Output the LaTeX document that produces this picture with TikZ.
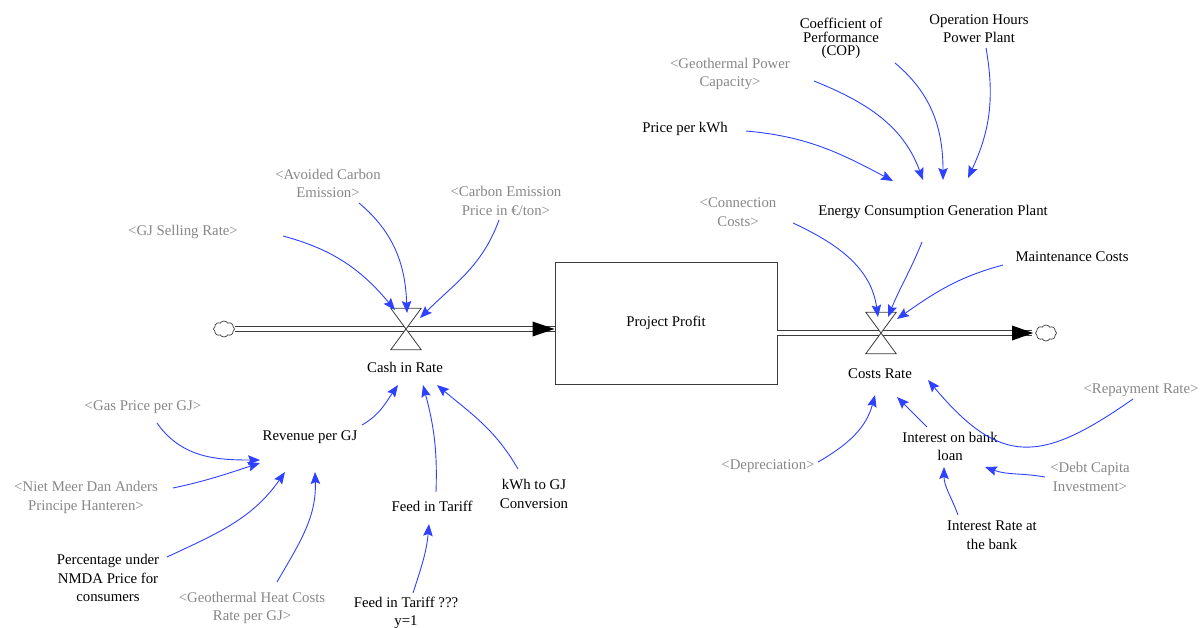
\documentclass[tikz,border=0pt]{standalone}
\usepackage{fontspec}
\setmainfont{Liberation Serif}
\usetikzlibrary{calc,arrows.meta,shapes.symbols}
\definecolor{linkblue}{RGB}{45,65,255}
\definecolor{ghost}{RGB}{135,135,135}
\definecolor{pipegray}{RGB}{60,60,60}
\newcommand{\vfs}{\fontsize{14.8}{18.5}\selectfont}
\tikzset{
  lbl/.style={inner sep=0pt, align=center, font=\vfs, text=black},
  shadow/.style={lbl, text=ghost},
  link/.style={draw=linkblue, line width=0.9pt, -{Stealth[length=12pt,width=9.5pt,inset=2pt]}},
  valvebox/.style={inner sep=0pt, minimum width=30pt, minimum height=41pt},
  valveline/.style={draw=pipegray, line width=0.8pt, fill=white, line join=miter},
  pipe/.style={draw=pipegray, line width=1.1pt, double=white, double distance=3.2pt},
  stockbox/.style={draw=pipegray, line width=0.9pt, minimum width=222pt, minimum height=122pt, inner sep=0pt, font=\vfs},
  sourcecloud/.style={cloud, draw=pipegray, line width=0.7pt, cloud puffs=8, cloud puff arc=120, aspect=1.3, minimum width=21pt, minimum height=16pt, inner sep=0pt}
}
\begin{document}
\begin{tikzpicture}[x=1pt,y=1pt]
\useasboundingbox (0,0) rectangle (1201,-627);

% stock, valves, clouds
\node[stockbox] (stock) at (666,-323) {Project Profit};
\node[valvebox] (cashv) at (406,-329) {};
\node[valvebox] (costv) at (881,-333) {};
\node[sourcecloud] (cloudL) at (224,-329) {};
\node[sourcecloud] (cloudR) at (1046,-333) {};

% pipes
\draw[pipe] (cloudL.east) -- (stock.west |- cashv.center);
\fill[black] (stock.west |- cashv.center) -- ++(-22,7.5) -- ++(0,-15) -- cycle;
\draw[pipe] (stock.east |- costv.center) -- ($(cloudR.west)+(-3,0)$);
\fill[black] ($(cloudR.west)+(-2,0)$) -- ++(-21,7.5) -- ++(0,-15) -- cycle;

% valve hourglasses
\draw[valveline] (cashv.north west) -- (cashv.north east) -- (cashv.center) -- cycle;
\draw[valveline] (cashv.south west) -- (cashv.south east) -- (cashv.center) -- cycle;
\draw[valveline] (costv.north west) -- (costv.north east) -- (costv.center) -- cycle;
\draw[valveline] (costv.south west) -- (costv.south east) -- (costv.center) -- cycle;

% labels
\node[lbl] (cashl) at (405,-367) {Cash in Rate};
\node[lbl] (costl) at (880,-374) {Costs Rate};

\node[shadow] (gjsell) at (183,-232) {<GJ Selling Rate>};
\node[shadow] (avoided) at (328,-183.5) {<Avoided Carbon\\Emission>};
\node[shadow] (carbon) at (506,-201) {<Carbon Emission\\Price in €/ton>};
\node[lbl] (revenue) at (310,-437) {Revenue per GJ};
\node[lbl] (feed) at (432,-506) {Feed in Tariff};
\node[lbl] (kwh) at (534,-494) {kWh to GJ\\Conversion};
\node[shadow] (gas) at (143,-407) {<Gas Price per GJ>};
\node[shadow] (niet) at (86,-497.5) {<Niet Meer Dan Anders\\Principe Hanteren>};
\node[lbl] (perc) at (108,-578) {Percentage under\\NMDA Price for\\consumers};
\node[shadow] (geoheat) at (252,-608) {<Geothermal Heat Costs\\Rate per GJ>};
\node[lbl] (feedtwo) at (406,-613) {Feed in Tariff ???\\y=1};

\node[lbl] (price) at (685,-129) {Price per kWh};
\node[shadow] (geopower) at (730,-74) {<Geothermal Power\\Capacity>};
\node[lbl] (cop) at (841,-38.5) {Coefficient of\\[-5pt]Performance\\[-5pt](COP)};
\node[lbl] (ophours) at (979,-28.5) {Operation Hours\\Power Plant};
\node[lbl] (energy) at (933,-212) {Energy Consumption Generation Plant};
\node[shadow] (conn) at (738,-212) {<Connection\\Costs>};
\node[lbl] (maint) at (1072,-257) {Maintenance Costs};
\node[shadow] (repay) at (1141,-390) {<Repayment Rate>};
\node[lbl] (interest) at (950,-446.5) {Interest on bank\\loan};
\node[shadow] (deprec) at (768,-466) {<Depreciation>};
\node[shadow] (debt) at (1090,-477) {<Debt Capita\\Investment>};
\node[lbl] (intrate) at (992,-535) {Interest Rate at\\the bank};

% links into Cash in Rate
\draw[link] ($(gjsell)+(100,-4)$) to[out=-15,in=130] ($(cashv)+(-11,19)$);
\draw[link] ($(avoided)+(31,-19.5)$) to[out=-40,in=92] ($(cashv)+(1,16)$);
\draw[link] ($(carbon)+(-7,-19)$) to[out=-110,in=45] ($(cashv)+(14,11)$);
\draw[link] ($(revenue)+(52,12)$) to[out=30,in=-125] ($(cashl)+(-7,-18)$);
\draw[link] ($(feed)+(4,14)$) to[out=88,in=-75] ($(cashl)+(18,-18)$);
\draw[link] ($(kwh)+(-16,25)$) to[out=120,in=-40] ($(cashl)+(32,-18)$);

% links into Revenue per GJ
\draw[link] ($(gas)+(14,-16)$) to[out=-55,in=180] ($(revenue)+(-50,-23)$);
\draw[link] ($(niet)+(87,9.5)$) to[out=12,in=-162] ($(revenue)+(-50,-26)$);
\draw[link] ($(perc)+(59,21)$) to[out=25,in=-125] ($(revenue)+(-25,-35)$);
\draw[link] ($(geoheat)+(25,26)$) to[out=60,in=-88] ($(revenue)+(5,-35)$);
\draw[link] ($(feedtwo)+(7,20)$) to[out=72,in=-95] ($(feed)+(-3,-18)$);

% links into Energy Consumption Generation Plant
\draw[link] ($(price)+(61,-2)$) to[out=-5,in=152] ($(energy)+(-40,31)$);
\draw[link] ($(geopower)+(84,-7)$) to[out=-22,in=110] ($(energy)+(-10,32)$);
\draw[link] ($(cop)+(54,-24.5)$) to[out=-40,in=90] ($(energy)+(10,32)$);
\draw[link] ($(ophours)+(7,-19.5)$) to[out=-80,in=65] ($(energy)+(35,34)$);

% links into Costs Rate
\draw[link] ($(conn)+(55,-11)$) to[out=-25,in=98] ($(costv)+(-3,16)$);
\draw[link] ($(energy)+(-11,-30)$) to[out=-112,in=68] ($(costv)+(7,16)$);
\draw[link] ($(maint)+(-69,-8)$) to[out=195,in=35] ($(costv)+(16,14)$);
\draw[link] ($(repay)+(-8,-9)$) to[out=-145,in=-50,looseness=1.4] ($(costl)+(48,-6)$);
\draw[link] ($(interest)+(-23,19.5)$) to[out=135,in=-45] ($(costl)+(17,-23)$);
\draw[link] ($(deprec)+(50,4)$) to[out=30,in=-105] ($(costl)+(-5,-21)$);

% links into Interest on bank loan
\draw[link] ($(debt)+(-45,0)$) to[out=170,in=-20] ($(interest)+(35,-20.5)$);
\draw[link] ($(intrate)+(-34,20)$) to[out=110,in=-90] ($(interest)+(-6,-20.5)$);
\end{tikzpicture}
\end{document}
